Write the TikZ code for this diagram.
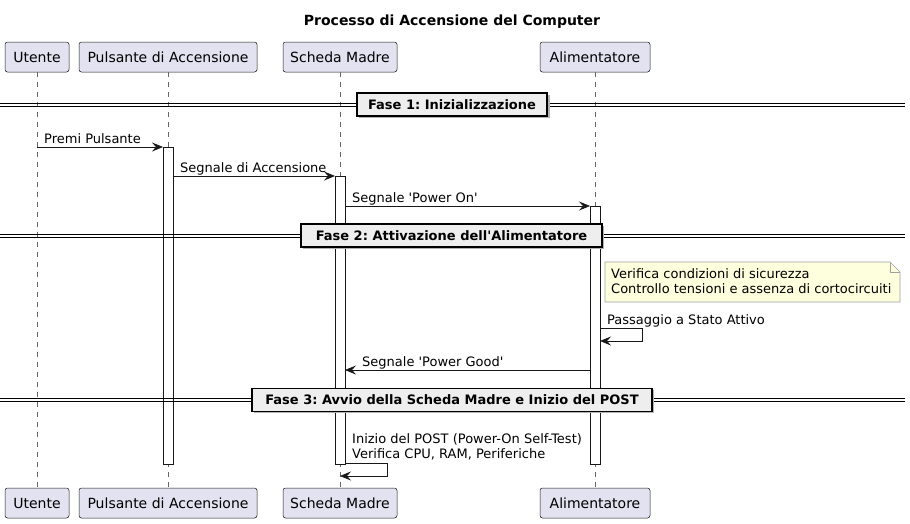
\documentclass[tikz,border=0pt]{standalone}
\usepackage{fontspec}
\setmainfont{DejaVu Sans}
\usetikzlibrary{arrows.meta}
\frenchspacing
\definecolor{partfill}{HTML}{E2E2F0}
\definecolor{partline}{HTML}{181818}
\definecolor{notefill}{HTML}{FEFFDD}
\definecolor{noteline}{HTML}{A0A0A0}
\definecolor{divfill}{HTML}{EEEEEE}
\tikzset{
  part/.style={draw=partline, fill=partfill, rounded corners=2.5pt, line width=0.5pt,
    minimum height=30pt, inner sep=0pt, font=\fontsize{14}{16}\selectfont},
  lifeline/.style={draw=gray!80!black, line width=0.5pt, dash pattern=on 5pt off 5pt},
  actbar/.style={draw=partline, fill=white, line width=0.6pt},
  msg/.style={draw=partline, line width=0.7pt, -{Stealth[length=11pt,width=9pt,inset=4pt]}},
  msgtxt/.style={anchor=base west, inner sep=0pt, font=\fontsize{13}{15}\selectfont},
  divbox/.style={draw=black, fill=divfill, line width=1.3pt, minimum height=23pt,
    inner sep=0pt, font=\bfseries\fontsize{13}{15}\selectfont},
  divline/.style={draw=black, line width=0.8pt},
}
\begin{document}
\begin{tikzpicture}[x=1pt,y=-1pt]
\useasboundingbox[fill=white] (0,0) rectangle (910,523);
% title
\node[font=\bfseries\fontsize{14}{16}\selectfont] (title) at (452,22) {Processo di Accensione del Computer};
% participants
\node[part, minimum width=64pt] (uT) at (37,57) {Utente};
\node[part, minimum width=178pt] (pT) at (168,57) {Pulsante di Accensione};
\node[part, minimum width=114pt] (sT) at (340,57) {Scheda Madre};
\node[part, minimum width=110pt] (aT) at (595,57) {Alimentatore};
\node[part, minimum width=64pt] (uB) at (37,503) {Utente};
\node[part, minimum width=178pt] (pB) at (168,503) {Pulsante di Accensione};
\node[part, minimum width=114pt] (sB) at (340,503) {Scheda Madre};
\node[part, minimum width=110pt] (aB) at (595,503) {Alimentatore};
% lifelines
\draw[lifeline] (uT.south) -- (uB.north);
\draw[lifeline] (pT.south) -- (pB.north);
\draw[lifeline] (sT.south) -- (sB.north);
\draw[lifeline] (aT.south) -- (aB.north);
% activation bars
\draw[actbar] (163,147) rectangle (173,464);
\draw[actbar] (335,176) rectangle (345,464);
\draw[actbar] (590,206) rectangle (600,464);
% dividers
\draw[divline] (0,103.5) -- (905,103.5);
\draw[divline] (0,106.5) -- (905,106.5);
\fill[gray!60] (359,95) rectangle (550,118);
\node[divbox, minimum width=190pt] (d1) at (452,104.5) {Fase 1: Inizializzazione};
\draw[divline] (0,234) -- (905,234);
\draw[divline] (0,237) -- (905,237);
\fill[gray!60] (303,226) rectangle (604,249);
\node[divbox, minimum width=301pt] (d2) at (451.5,235.5) {Fase 2: Attivazione dell\textquotesingle Alimentatore};
\draw[divline] (0,398.5) -- (905,398.5);
\draw[divline] (0,401.5) -- (905,401.5);
\fill[gray!60] (254,390) rectangle (654,413);
\node[divbox, minimum width=400pt] (d3) at (452,400) {Fase 3: Avvio della Scheda Madre e Inizio del POST};
% messages
\coordinate (m1s) at (37,147); \coordinate (m1e) at (163,147);
\draw[msg] (m1s) -- (m1e);
\node[msgtxt] (t1) at (44,143) {Premi Pulsante};
\coordinate (m2s) at (173,176); \coordinate (m2e) at (335,176);
\draw[msg] (m2s) -- (m2e);
\node[msgtxt] (t2) at (180,172) {Segnale di Accensione};
\coordinate (m3s) at (345,206); \coordinate (m3e) at (590,206);
\draw[msg] (m3s) -- (m3e);
\node[msgtxt] (t3) at (352,202) {Segnale \textquotesingle Power On\textquotesingle};
% note
\draw[draw=noteline, fill=notefill, line width=0.6pt] (605,262) -- (890,262) -- (900,272) -- (900,302) -- (605,302) -- cycle;
\draw[draw=noteline, line width=0.6pt] (890,262) -- (890,272) -- (900,272);
\node[msgtxt] (n1) at (611,278) {Verifica condizioni di sicurezza};
\node[msgtxt] (n2) at (611,293) {Controllo tensioni e assenza di cortocircuiti};
% self message alimentatore
\coordinate (m4s) at (600,328); \coordinate (m4e) at (600,341);
\draw[msg] (m4s) -- (642,328) -- (642,341) -- (m4e);
\node[msgtxt] (t4) at (607,324) {Passaggio a Stato Attivo};
% power good
\coordinate (m5s) at (590,370); \coordinate (m5e) at (345,370);
\draw[msg] (m5s) -- (m5e);
\node[msgtxt] (t5) at (362,366) {Segnale \textquotesingle Power Good\textquotesingle};
% self message scheda
\coordinate (m6s) at (345,463.5); \coordinate (m6e) at (340,476);
\draw[msg] (m6s) -- (387,463.5) -- (387,476) -- (m6e);
\node[msgtxt] (t6) at (352,443) {Inizio del POST (Power-On Self-Test)};
\node[msgtxt] (t7) at (352,458) {Verifica CPU, RAM, Periferiche};
\end{tikzpicture}
\end{document}
